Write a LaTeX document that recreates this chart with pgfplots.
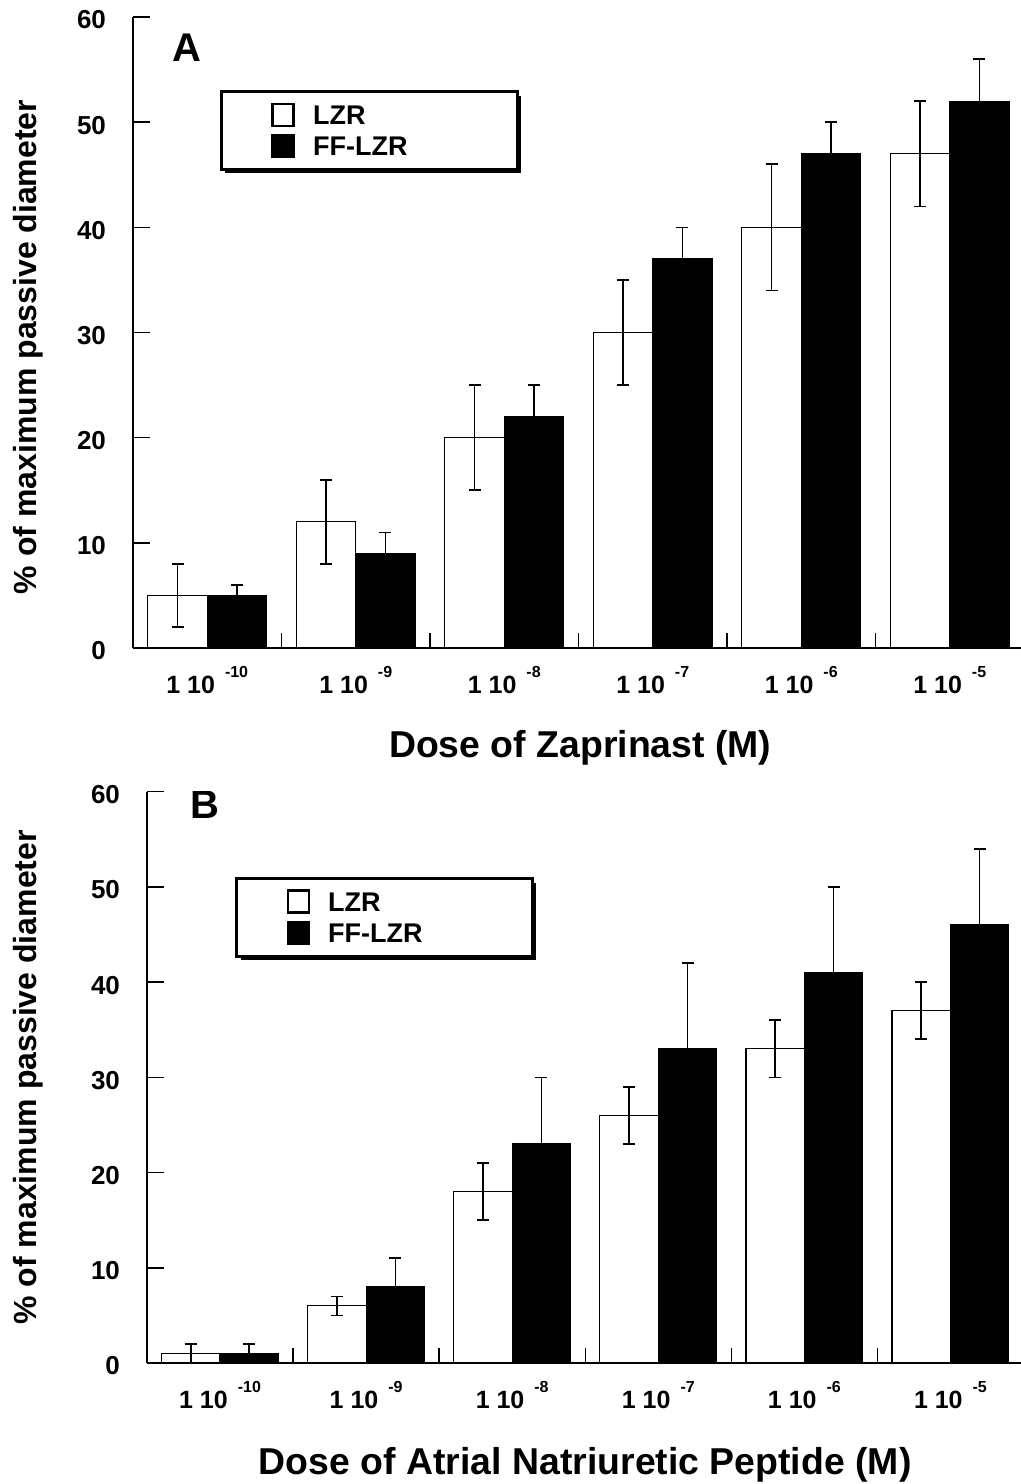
\documentclass[border=0pt]{standalone}
\usepackage{fontspec}
\setmainfont{Liberation Sans}
\usepackage{pgfplots}
\pgfplotsset{compat=1.18}
\usetikzlibrary{shadows}
\makeatletter
\tikzset{nopre/.code={\let\tikz@preactions\pgfutil@empty}}
\makeatother

\pgfplotstableread{
x y e
0 5 3
1 12 4
2 20 5
3 30 5
4 40 6
5 47 5
}\topwhite
\pgfplotstableread{
x y e
0 5 1
1 9 2
2 22 3
3 37 3
4 47 3
5 52 4
}\topblack
\pgfplotstableread{
x y e
0 1 1
1 6 1
2 18 3
3 26 3
4 33 3
5 37 3
}\botwhite
\pgfplotstableread{
x y e
0 1 1
1 8 3
2 23 7
3 33 9
4 41 9
5 46 8
}\botblack

\newcommand{\tl}[1]{1 10\hspace{5pt}\raisebox{8pt}{\fontsize{8}{9}\selectfont #1}}

\pgfplotsset{
  mybars/.style={
    scale only axis,
    ybar,
    bar width=0.4,
    xmin=-0.5, xmax=5.5,
    ymin=0, ymax=60,
    ytick={0,10,...,60},
    xtick={0,...,5},
    xticklabels={\tl{-10},\tl{-9},\tl{-8},\tl{-7},\tl{-6},\tl{-5}},
    minor xtick={0.5,1.5,2.5,3.5,4.5},
    axis x line=bottom, axis y line=left,
    axis line style={-, line width=0.7pt},
    tick align=inside,
    major tick length=8.5pt, minor tick length=7.5pt,
    major x tick style={draw=none},
    tick style={black, line width=0.7pt},
    /pgf/number format/assume math mode=true,
    yticklabel style={font=\fontsize{13}{15}\selectfont\bfseries, xshift=-10pt, yshift=-1.5pt},
    xticklabel style={font=\fontsize{12.5}{15}\selectfont\bfseries, yshift=-5.8pt},
    xlabel style={font=\fontsize{18.7}{22}\selectfont\bfseries, anchor=center},
    ylabel style={font=\fontsize{16}{19}\selectfont\bfseries, anchor=center},
    legend cell align=left,
    legend style={anchor=north west, draw=black, fill=white, line width=1.5pt,
      font=\fontsize{13.5}{15}\selectfont\bfseries,
      nodes={inner ysep=0pt, text height=12.3pt, text depth=2.9pt},
      inner xsep=25pt, inner ysep=4pt, row sep=0.4pt,
      /tikz/every odd column/.append style={column sep=7pt},
      drop shadow={shadow xshift=2pt, shadow yshift=-2pt, fill=black, opacity=1}},
  },
  whitebar/.style={fill=white, draw=black, line width=0.6pt, bar shift=-0.2,
    legend image code/.code={\draw[nopre,fill=white,draw=black,line width=1.3pt] (0pt,-5.5pt) rectangle (10.5pt,5.5pt);},
    error bars/.cd, y dir=both, y explicit,
    error bar style={line width=0.8pt},
    error mark options={rotate=90, mark size=3pt, line width=0.8pt}},
  blackbar/.style={fill=black, draw=black, line width=0.6pt, bar shift=0.2,
    legend image code/.code={\draw[nopre,fill=black,draw=black,line width=1.3pt] (0pt,-5.5pt) rectangle (10.5pt,5.5pt);},
    error bars/.cd, y dir=plus, y explicit,
    error bar style={line width=0.8pt},
    error mark options={rotate=90, mark size=3pt, line width=0.8pt}},
}

\begin{document}
\begin{tikzpicture}
\useasboundingbox (0,0) rectangle (510.5pt,-742pt);

\begin{axis}[mybars,
  at={(66.5pt,-324pt)}, anchor=south west,
  width=445.5pt, height=315.5pt,
  xlabel={Dose of Zaprinast (M)},
  ylabel={\% of maximum passive diameter},
  xlabel style={at={(axis description cs:0.502,-0.158)}},
  ylabel style={at={(axis description cs:-0.1178,0.477)}},
  legend style={at={(rel axis cs:0.0976,0.884)}},
]
\addplot[whitebar] table[x=x,y=y,y error=e] {\topwhite};
\addlegendentry{\makebox[75pt][l]{LZR}}
\addplot[blackbar] table[x=x,y=y,y error=e] {\topblack};
\addlegendentry{\makebox[75pt][l]{FF-LZR}}
\node[font=\fontsize{20}{24}\selectfont\bfseries] at (rel axis cs:0.0606,0.952) {A};
\end{axis}

\begin{axis}[mybars,
  at={(73.5pt,-681.5pt)}, anchor=south west,
  width=438.25pt, height=285.65pt,
  xlabel={Dose of Atrial Natriuretic Peptide (M)},
  ylabel={\% of maximum passive diameter},
  xlabel style={at={(axis description cs:0.5,-0.1786)}},
  ylabel style={at={(axis description cs:-0.1358,0.5)}},
  legend style={at={(rel axis cs:0.1004,0.8507)}},
]
\addplot[whitebar] table[x=x,y=y,y error=e] {\botwhite};
\addlegendentry{\makebox[75pt][l]{LZR}}
\addplot[blackbar] table[x=x,y=y,y error=e] {\botblack};
\addlegendentry{\makebox[75pt][l]{FF-LZR}}
\node[font=\fontsize{20}{24}\selectfont\bfseries] at (rel axis cs:0.066,0.977) {B};
\end{axis}
\end{tikzpicture}
\end{document}
